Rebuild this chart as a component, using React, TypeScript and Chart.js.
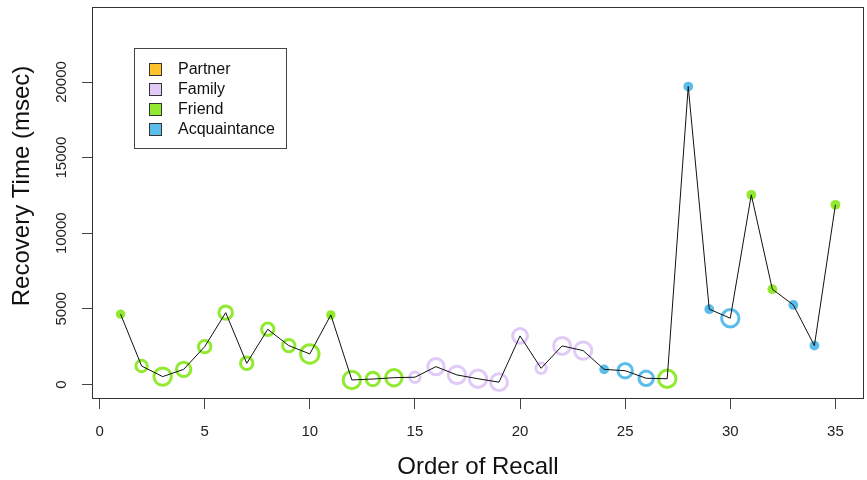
import React, { useEffect, useRef } from "react";
import { Chart, registerables } from "chart.js";

Chart.register(...registerables);

// ---------- data ----------
const recallOrder = [
  1, 2, 3, 4, 5, 6, 7, 8, 9, 10, 11, 12, 13, 14, 15, 16, 17, 18, 19, 20, 21, 22,
  23, 24, 25, 26, 27, 28, 29, 30, 31, 32, 33, 34, 35,
];
const recoveryTimes = [
  4650, 1220, 520, 1000, 2500, 4750, 1400, 3650, 2570, 2020, 4600, 300, 360,
  450, 480, 1180, 630, 380, 150, 3210, 1070, 2550, 2240, 1000, 910, 410, 380,
  19700, 4980, 4380, 12540, 6300, 5260, 2570, 11880,
];
const relationship = [
  "Friend", "Friend", "Friend", "Friend", "Friend", "Friend", "Friend", "Friend",
  "Friend", "Friend", "Friend", "Friend", "Friend", "Friend", "Family", "Family",
  "Family", "Family", "Family", "Family", "Family", "Family", "Family",
  "Acquaintance", "Acquaintance", "Acquaintance", "Friend", "Acquaintance",
  "Acquaintance", "Acquaintance", "Friend", "Friend", "Acquaintance",
  "Acquaintance", "Friend",
];
const markerKind = [
  "dot", "ring", "ring", "ring", "ring", "ring", "ring", "ring", "ring", "ring",
  "dot", "ring", "ring", "ring", "ring", "ring", "ring", "ring", "ring", "ring",
  "ring", "ring", "ring", "dot", "ring", "ring", "ring", "dot", "dot", "ring",
  "dot", "dot", "dot", "dot", "dot",
];
const markerSize = [
  4.7, 5.7, 8.7, 7.2, 6.2, 6.7, 6.2, 6.2, 6.2, 9.2, 4.7, 8.7, 6.7, 8.2, 5.2, 8.2,
  8.7, 8.7, 8.4, 7.4, 5.2, 8.5, 8.7, 4.9, 7.2, 7.2, 8.7, 4.9, 4.9, 8.7, 4.9, 4.9,
  4.9, 4.9, 4.9,
];
const categories = ["Partner", "Family", "Friend", "Acquaintance"];
const categoryColors = ["#FFC22B", "#E2CAF8", "#92EA30", "#5BBDEA"];
const xTickValues = [0, 5, 10, 15, 20, 25, 30, 35];
const yTickValues = [0, 5000, 10000, 15000, 20000];
const xTitle = "Order of Recall";
const yTitle = "Recovery Time (msec)";

const FONT = "'Liberation Sans', Arial, Helvetica, sans-serif";

function colorOf(cat: string) {
  return categoryColors[categories.indexOf(cat)];
}

const boxPlugin = {
  id: "rbox",
  afterDraw(chart: any) {
    const { ctx, chartArea } = chart;
    ctx.save();
    ctx.strokeStyle = "#333";
    ctx.lineWidth = 1;
    ctx.strokeRect(
      chartArea.left + 0.5,
      chartArea.top + 0.5,
      chartArea.right - chartArea.left - 1,
      chartArea.bottom - chartArea.top - 1
    );
    ctx.restore();
  },
};

const axisTextPlugin = {
  id: "axistext",
  afterDraw(chart: any) {
    const { ctx, chartArea } = chart;
    const ys = chart.scales.y;
    const xs = chart.scales.x;
    ctx.save();
    ctx.fillStyle = "#222";
    ctx.font = `15px ${FONT}`;
    ctx.textAlign = "center";
    ctx.textBaseline = "middle";
    ys.ticks.forEach((t: any) => {
      const py = ys.getPixelForValue(t.value);
      ctx.save();
      ctx.translate(62, py);
      ctx.rotate(-Math.PI / 2);
      ctx.fillText(String(t.value), 0, 0);
      ctx.restore();
    });
    xs.ticks.forEach((t: any) => {
      const px = xs.getPixelForValue(t.value);
      ctx.fillText(String(t.value), px, chartArea.bottom + 33);
    });
    ctx.fillStyle = "#111";
    ctx.font = `24px ${FONT}`;
    ctx.fillText(xTitle, (chartArea.left + chartArea.right) / 2, 467);
    ctx.save();
    ctx.translate(22, 186);
    ctx.rotate(-Math.PI / 2);
    ctx.fillText(yTitle, 0, 0);
    ctx.restore();
    ctx.restore();
  },
};

const legendPlugin = {
  id: "rlegend",
  afterDraw(chart: any) {
    const { ctx, chartArea } = chart;
    const left = chartArea.left + 42;
    const top = chartArea.top + 41;
    const w = 152;
    const h = 100;
    ctx.save();
    ctx.fillStyle = "#fff";
    ctx.fillRect(left, top, w, h);
    ctx.strokeStyle = "#444";
    ctx.lineWidth = 1;
    ctx.strokeRect(left + 0.5, top + 0.5, w, h);
    ctx.font = `16px ${FONT}`;
    ctx.textBaseline = "middle";
    ctx.textAlign = "left";
    categories.forEach((cat, i) => {
      const cy = top + 21 + i * 20;
      ctx.fillStyle = categoryColors[i];
      ctx.fillRect(left + 15, cy - 6, 13, 13);
      ctx.strokeStyle = "#333";
      ctx.strokeRect(left + 15.5, cy - 5.5, 12, 12);
      ctx.fillStyle = "#111";
      ctx.fillText(cat, left + 44, cy + 1);
    });
    ctx.restore();
  },
};

export default function App() {
  const ref = useRef<HTMLCanvasElement | null>(null);

  useEffect(() => {
    document.body.style.margin = "0";
    if (!ref.current) return;
    const pts = recallOrder.map((x, i) => ({ x, y: recoveryTimes[i] }));
    const isDot = markerKind.map((k) => k === "dot");
    const cols = relationship.map(colorOf);

    const chart = new Chart(ref.current, {
      type: "scatter",
      data: {
        datasets: [
          {
            type: "line",
            data: pts,
            borderColor: "#111",
            borderWidth: 1,
            pointRadius: 0,
            tension: 0,
            showLine: true,
            fill: false,
          } as any,
          {
            type: "scatter",
            data: pts,
            pointRadius: markerSize,
            pointHoverRadius: markerSize,
            pointBackgroundColor: cols.map((c, i) => (isDot[i] ? c : "rgba(0,0,0,0)")),
            pointBorderColor: cols,
            pointBorderWidth: isDot.map((d) => (d ? 0 : 3)),
            showLine: false,
          } as any,
        ],
      },
      options: {
        responsive: false,
        animation: false,
        events: [],
        layout: { autoPadding: false, padding: { top: 7, right: 3, left: 0, bottom: 0 } },
        plugins: {
          legend: { display: false },
          tooltip: { enabled: false },
        },
        scales: {
          x: {
            type: "linear",
            min: -0.36,
            max: 36.36,
            afterBuildTicks: (s: any) => {
              s.ticks = xTickValues.map((v) => ({ value: v }));
            },
            afterFit: (s: any) => {
              s.height = 81;
              s.paddingLeft = 0;
              s.paddingRight = 0;
            },
            border: { display: false },
            grid: {
              drawOnChartArea: false,
              drawTicks: true,
              tickLength: 10,
              color: "#444",
              lineWidth: 1,
            },
            ticks: { display: false },
            title: { display: false },
          },
          y: {
            type: "linear",
            min: -960,
            max: 24960,
            afterBuildTicks: (s: any) => {
              s.ticks = yTickValues.map((v) => ({ value: v }));
            },
            afterFit: (s: any) => {
              s.width = 92;
              s.paddingTop = 0;
              s.paddingBottom = 0;
            },
            border: { display: false },
            grid: {
              drawOnChartArea: false,
              drawTicks: true,
              tickLength: 10,
              color: "#444",
              lineWidth: 1,
            },
            ticks: { display: false },
            title: { display: false },
          },
        },
      } as any,
      plugins: [boxPlugin, axisTextPlugin, legendPlugin],
    });
    return () => chart.destroy();
  }, []);

  return (
    <div style={{ position: "absolute", left: 0, top: 0, width: 867, height: 480 }}>
      <canvas ref={ref} width={867} height={480} />
    </div>
  );
}
